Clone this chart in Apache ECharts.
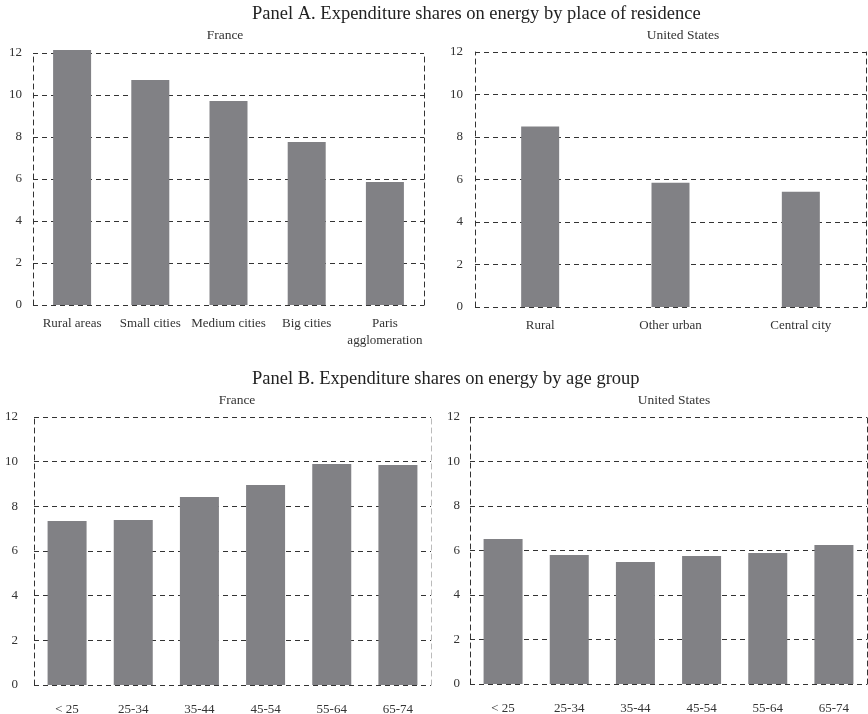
<!DOCTYPE html>
<html>
<head>
<meta charset="utf-8">
<script src="https://cdn.jsdelivr.net/npm/echarts@6/dist/echarts.min.js"></script>
<style>
  html, body { margin: 0; padding: 0; background: #fff; }
  #chart { width: 868px; height: 714px; }
</style>
</head>
<body>
<div id="chart"></div>
<script>
// Energy expenditure shares (%) by place of residence and by age group
const residenceFrance = ['Rural areas', 'Small cities', 'Medium cities', 'Big cities', 'Paris\nagglomeration'];
const residenceFranceValues = [12.14, 10.71, 9.71, 7.76, 5.86];

const residenceUS = ['Rural', 'Other urban', 'Central city'];
const residenceUSValues = [8.49, 5.85, 5.42];

const ageGroups = ['< 25', '25-34', '35-44', '45-54', '55-64', '65-74'];
const ageFranceValues = [7.34, 7.39, 8.42, 8.96, 9.90, 9.85];
const ageUSValues = [6.52, 5.80, 5.48, 5.75, 5.89, 6.25];

const yTicks = [0, 2, 4, 6, 8, 10, 12];

const FONT = '"Liberation Serif", "Times New Roman", serif';
const BAR = '#818185';
const DASH = [5, 4];

const chart = echarts.init(document.getElementById('chart'));

// Plot areas (pixel boxes) for the four panels
const grids = [
  { left: 33, top: 53, width: 391, height: 252 },
  { left: 475, top: 52, width: 391, height: 255 },
  { left: 34, top: 417, width: 397, height: 268 },
  { left: 470, top: 417, width: 397, height: 267 }
].map(g => Object.assign({ outerBoundsMode: 'none', containLabel: false }, g));

const panels = [
  { cats: residenceFrance, vals: residenceFranceValues, barWidth: 38, labelMargin: 10, yMargin: 11, rightColor: '#333' },
  { cats: residenceUS, vals: residenceUSValues, barWidth: 38, labelMargin: 10, yMargin: 12, rightColor: '#333' },
  { cats: ageGroups, vals: ageFranceValues, barWidth: 39, labelMargin: 16, yMargin: 16, rightColor: '#bbb' },
  { cats: ageGroups, vals: ageUSValues, barWidth: 39, labelMargin: 16, yMargin: 10, rightColor: '#333' }
];

const xAxes = [], yAxes = [], series = [];
panels.forEach((p, i) => {
  xAxes.push({
    type: 'category', gridIndex: i, data: p.cats,
    axisLine: { show: false }, axisTick: { show: false },
    axisLabel: { color: '#333', fontFamily: FONT, fontSize: 13, margin: p.labelMargin, lineHeight: 17, interval: 0 }
  });
  // left axis with labels and dashed grid
  yAxes.push({
    type: 'value', gridIndex: i, min: yTicks[0], max: yTicks[yTicks.length - 1], interval: 2,
    axisLine: { show: true, lineStyle: { color: '#333', type: DASH, width: 1 } },
    axisTick: { show: false },
    axisLabel: { color: '#333', fontFamily: FONT, fontSize: 13, margin: p.yMargin },
    splitLine: { show: true, lineStyle: { color: '#333', type: DASH, width: 1 } }
  });
  // right border of the panel
  yAxes.push({
    type: 'value', gridIndex: i, position: 'right', min: 0, max: 12, interval: 2,
    axisLine: { show: true, lineStyle: { color: p.rightColor, type: DASH, width: 1 } },
    axisTick: { show: false }, axisLabel: { show: false }, splitLine: { show: false }
  });
  series.push({
    type: 'bar', xAxisIndex: i, yAxisIndex: i * 2, data: p.vals, clip: false,
    barWidth: p.barWidth, itemStyle: { color: BAR }, silent: true
  });
});

const titleStyle = { fontFamily: FONT, fontSize: 18.5, fontWeight: 'normal', color: '#222' };
const subStyle = { fontFamily: FONT, fontSize: 13.5, fontWeight: 'normal', color: '#333' };

chart.setOption({
  animation: false,
  title: [
    { text: 'Panel A. Expenditure shares on energy by place of residence', left: 252, top: 5, padding: 0, textStyle: titleStyle },
    { text: 'France', left: 225, top: 28, padding: 0, textAlign: 'center', textStyle: subStyle },
    { text: 'United States', left: 683, top: 28, padding: 0, textAlign: 'center', textStyle: subStyle },
    { text: 'Panel B. Expenditure shares on energy by age group', left: 252, top: 370, padding: 0, textStyle: titleStyle },
    { text: 'France', left: 237, top: 393, padding: 0, textAlign: 'center', textStyle: subStyle },
    { text: 'United States', left: 674, top: 393, padding: 0, textAlign: 'center', textStyle: subStyle }
  ],
  grid: grids,
  xAxis: xAxes,
  yAxis: yAxes,
  series: series
});
</script>
</body>
</html>
